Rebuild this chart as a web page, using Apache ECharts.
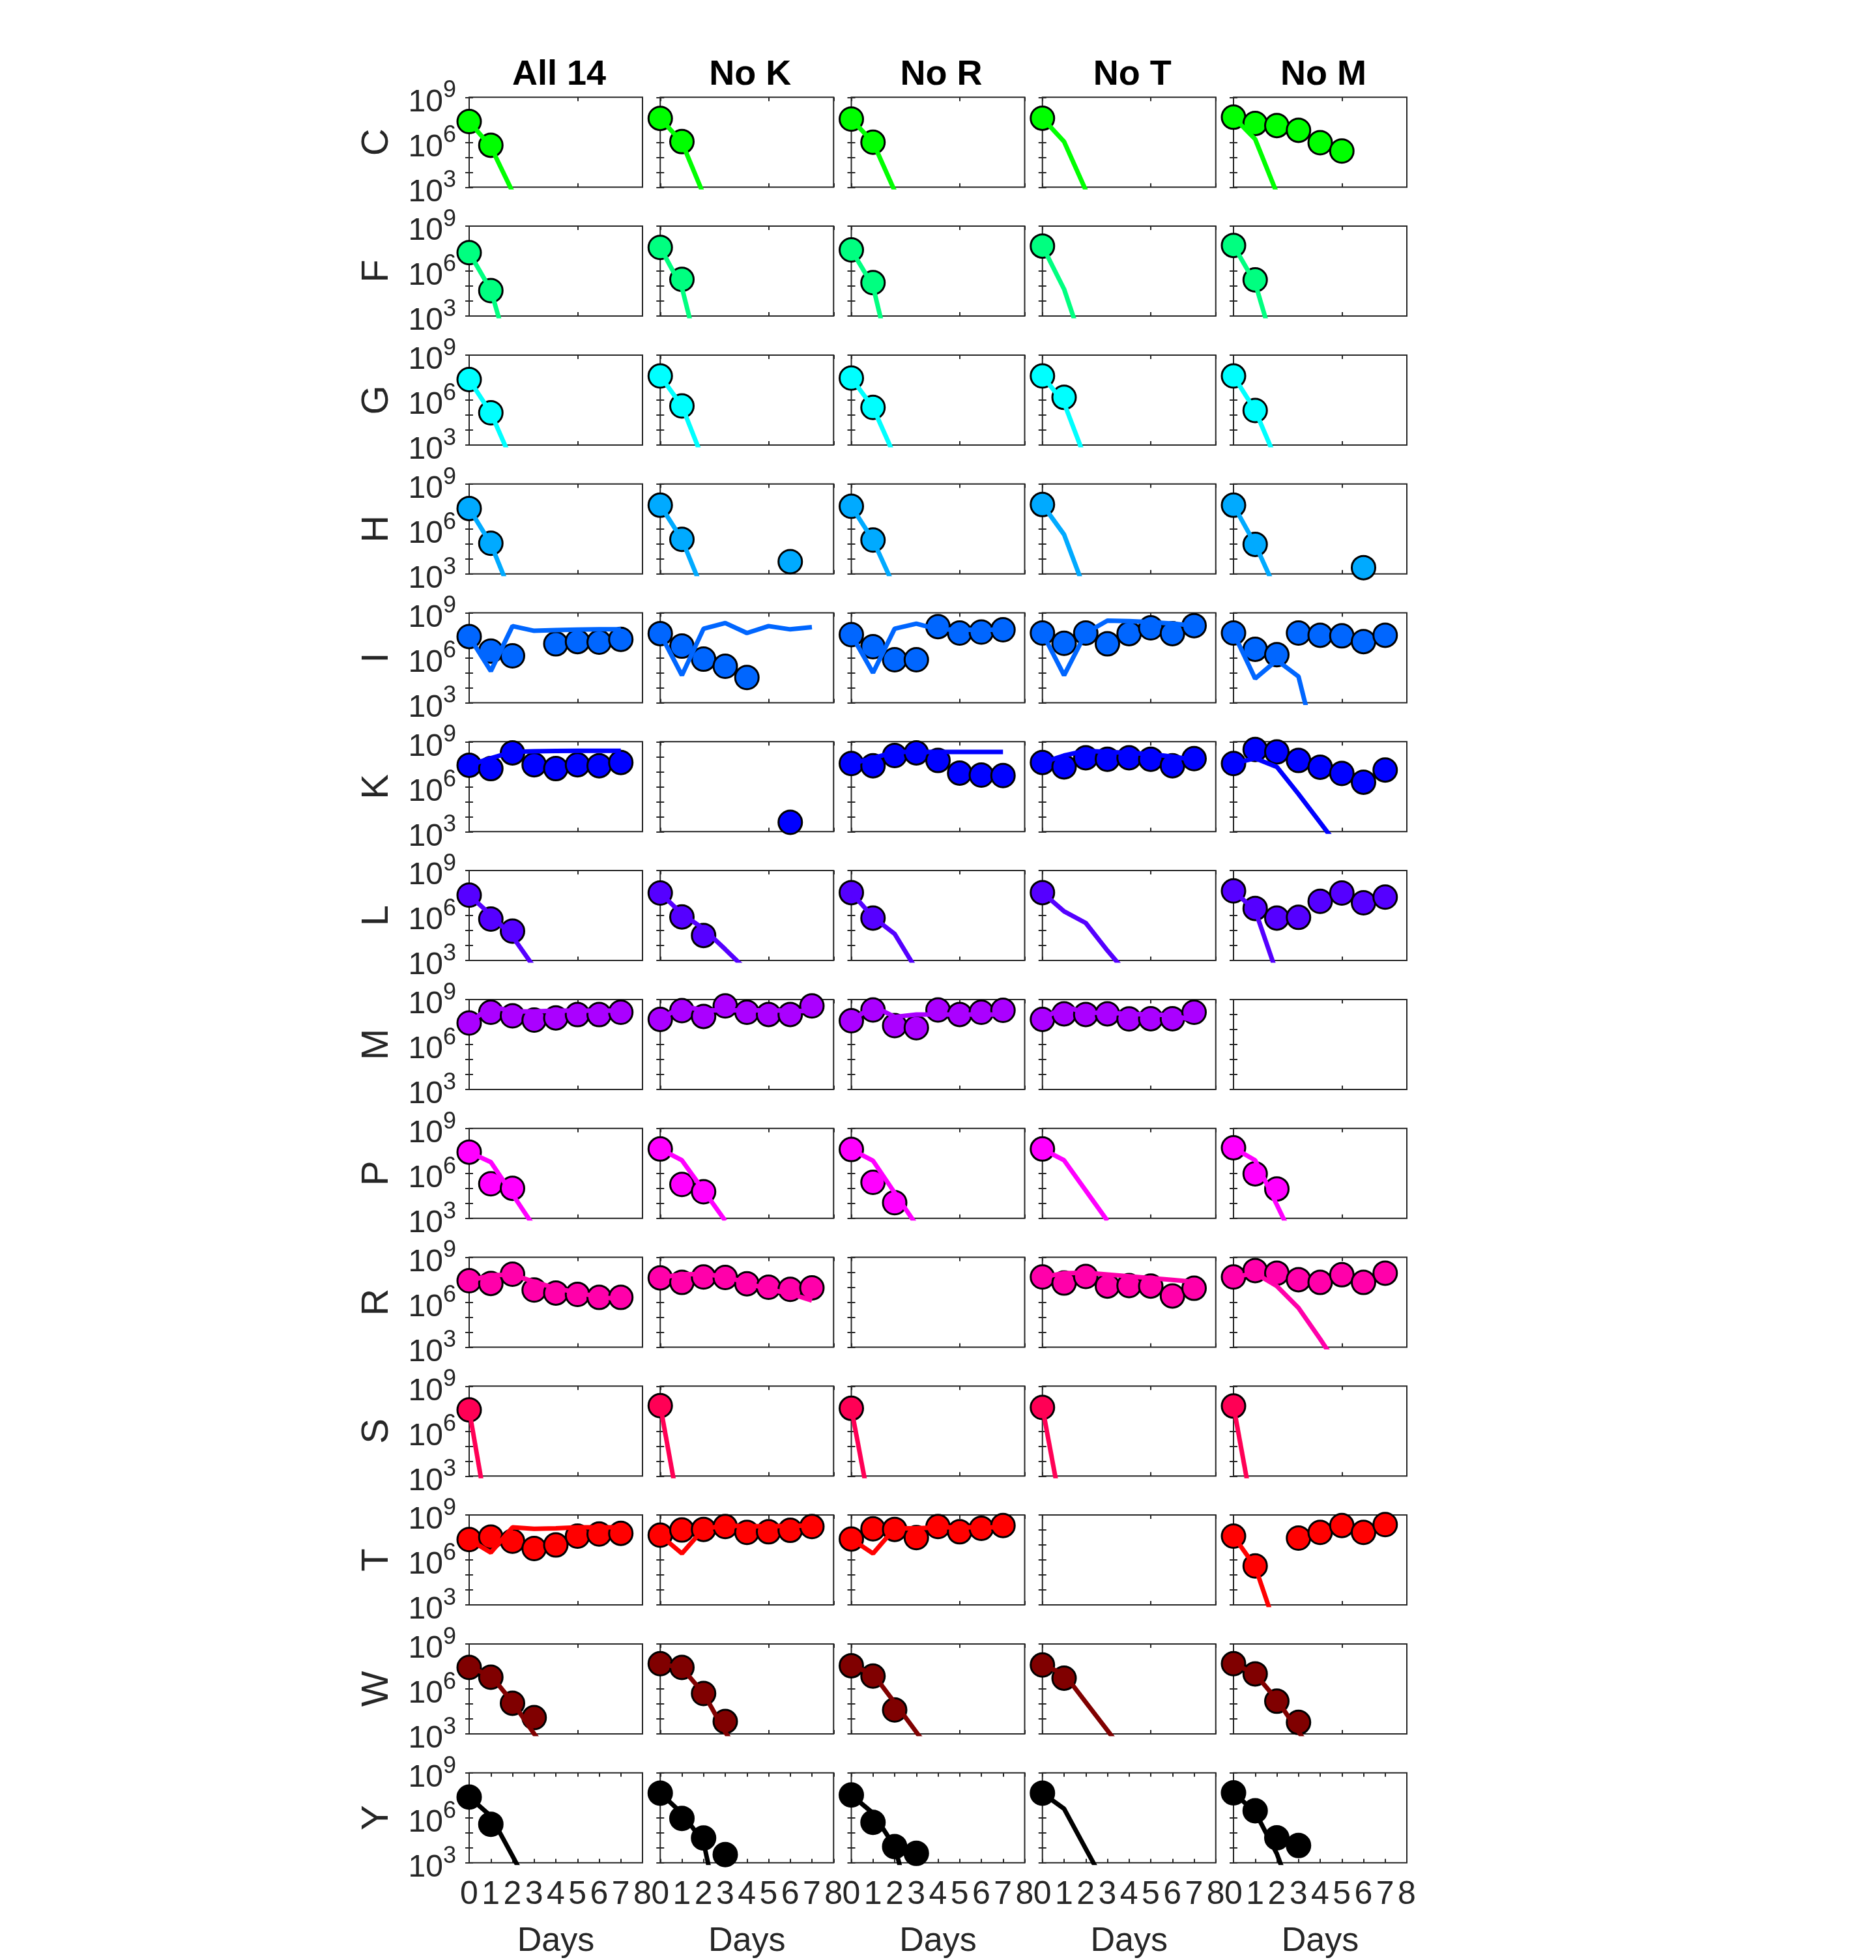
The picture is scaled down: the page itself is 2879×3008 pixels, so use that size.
<!DOCTYPE html>
<html><head><meta charset="utf-8">
<script src="https://cdn.jsdelivr.net/npm/echarts@6/dist/echarts.min.js"></script>
<style>html,body{margin:0;padding:0;background:#fff}#chart{width:2879px;height:3008px}</style>
</head><body><div id="chart"></div>
<script>
const days = [0, 1, 2, 3, 4, 5, 6, 7, 8];
const species = ['C', 'F', 'G', 'H', 'I', 'K', 'L', 'M', 'P', 'R', 'S', 'T', 'W', 'Y'];
const conditions = ['All 14', 'No K', 'No R', 'No T', 'No M'];
const speciesColors = ['#00ff00', '#00ff80', '#00ffff', '#00aaff', '#0066ff', '#0000ff', '#5500ff',
  '#aa00ff', '#ff00ff', '#ff00aa', '#ff0055', '#ff0000', '#800000', '#000000'];
const yLabelExponents = [3, 6, 9];
const xTickLabels = ['0', '1', '2', '3', '4', '5', '6', '7', '8'];

// observed abundances (one array per species, indexed by day; null = not measured)
const obsAll14 = [
  [2.4e7, 6.3e5], [1.7e7, 5.0e4], [2.3e7, 1.4e5], [2.3e7, 1.1e5],
  [2.6e7, 2.8e6, 1.35e6, null, 8.5e6, 1.2e7, 1.1e7, 1.7e7],
  [2.7e7, 1.6e7, 1.8e8, 2.9e7, 1.6e7, 2.9e7, 2.5e7, 4.1e7],
  [2.3e7, 5.8e5, 9.1e4],
  [2.7e7, 1.4e8, 8.1e7, 4.2e7, 5.9e7, 9.8e7, 9.8e7, 1.4e8],
  [2.6e7, 2.0e5, 1.0e5],
  [2.7e7, 1.8e7, 7.4e7, 6.5e6, 4.1e6, 3.3e6, 2.1e6, 2.1e6],
  [2.6e7],
  [2.3e7, 3.4e7, 1.8e7, 5.8e6, 1.0e7, 3.9e7, 5.4e7, 6.0e7],
  [2.7e7, 6.0e6, 1.1e5, 1.2e4],
  [2.4e7, 3.7e5]
];
const modelAll14 = [
  [2.4e7, 5.0e5, 5.0e2], [1.7e7, 5.6e4, 0.5], [2.3e7, 1.4e5, 69], [2.3e7, 1.0e5, 27],
  [2.6e7, 1.3e5, 1.3e8, 6.3e7, 7.1e7, 7.6e7, 7.9e7, 7.9e7],
  [2.7e7, 7.9e7, 2.1e8, 2.3e8, 2.4e8, 2.5e8, 2.5e8, 2.5e8],
  [2.3e7, 1.1e6, 4.0e4, 3.5e2],
  [2.7e7, 3.5e8, 1.6e8, 1.6e8, 1.8e8, 1.8e8, 1.8e8, 1.8e8],
  [2.6e7, 5.6e6, 4.0e4, 2.7e2],
  [2.7e7, 6.3e7, 6.8e7, 2.3e7, 8.5e6, 4.4e6, 2.2e6, 1.6e6],
  [2.6e7, 0.12],
  [2.3e7, 3.1e6, 1.5e8, 1.2e8, 1.3e8, 1.5e8, 1.5e8, 1.5e8],
  [2.7e7, 7.9e6, 1.3e5, 1.0e3, 13],
  [2.4e7, 1.3e6, 2.8e3, 5.4]
];
const obsNoK = [
  [3.9e7, 1.1e6], [3.8e7, 2.8e5], [4.0e7, 4.0e5], [3.8e7, 2.0e5, null, null, null, null, 6.5e3],
  [4.1e7, 6.0e6, 8.1e5, 2.7e5, 4.8e4],
  [null, null, null, null, null, null, 4.2e3],
  [3.2e7, 8.1e5, 4.7e4],
  [4.7e7, 1.8e8, 7.4e7, 3.7e8, 1.4e8, 1.0e8, 1.0e8, 3.7e8],
  [4.2e7, 1.8e5, 5.9e4],
  [4.2e7, 2.1e7, 4.8e7, 4.5e7, 1.7e7, 1.0e7, 7.2e6, 9.1e6],
  [5.0e7],
  [4.5e7, 1.0e8, 1.1e8, 1.7e8, 6.9e7, 7.6e7, 9.5e7, 1.7e8],
  [4.8e7, 2.7e7, 4.9e5, 6.6e3],
  [4.4e7, 9.1e5, 4.5e4, 3.5e3]
];
const modelNoK = [
  [3.9e7, 1.0e6, 3.2e2], [3.8e7, 8.0e4, 0.14], [4.0e7, 4.0e5, 87], [3.8e7, 2.0e5, 58],
  [4.1e7, 6.8e4, 8.7e7, 2.1e8, 4.5e7, 1.3e8, 7.9e7, 1.1e8],
  [],
  [3.2e7, 1.3e6, 1.3e5, 5.6e3, 2.2e2],
  [4.7e7, 3.7e8, 1.9e8, 1.9e8, 1.9e8, 1.9e8, 1.8e8, 1.6e8],
  [4.2e7, 7.4e6, 7.1e4, 6.8e2],
  [4.2e7, 7.4e7, 7.4e7, 5.2e7, 1.9e7, 7.2e6, 3.7e6, 1.3e6],
  [5.0e7, 0.54],
  [4.5e7, 2.7e6, 1.2e8, 2.0e8, 1.8e8, 1.8e8, 1.9e8, 2.0e8],
  [4.8e7, 2.5e7, 5.0e5, 1.3e3, 8],
  [4.4e7, 2.0e6, 2.3e4, 4e-3]
];
const obsNoR = [
  [3.5e7, 1.0e6], [2.6e7, 1.7e5], [2.9e7, 3.2e5], [3.2e7, 1.8e5],
  [3.5e7, 5.5e6, 7.4e5, 7.4e5, 1.2e8, 4.5e7, 5.2e7, 7.4e7],
  [3.5e7, 2.5e7, 1.2e8, 1.8e8, 5.6e7, 8.1e6, 5.9e6, 5.5e6],
  [3.4e7, 6.8e5],
  [3.8e7, 2.0e8, 1.8e7, 1.3e7, 2.0e8, 1.0e8, 1.4e8, 1.9e8],
  [3.9e7, 2.5e5, 1.1e4],
  [],
  [3.3e7],
  [2.5e7, 1.2e8, 1.1e8, 3.1e7, 1.7e8, 7.6e7, 1.3e8, 2.0e8],
  [3.5e7, 7.1e6, 3.9e4],
  [3.3e7, 4.9e5, 1.2e4, 4.2e3]
];
const modelNoR = [
  [3.5e7, 1.0e6, 5.6e2], [2.6e7, 1.0e5, 0.09], [2.9e7, 3.2e5, 178], [3.2e7, 1.8e5, 120],
  [3.5e7, 1.0e5, 8.7e7, 1.9e8, 7.9e7, 7.4e7, 7.4e7, 7.4e7],
  [3.5e7, 7.9e7, 2.1e8, 2.1e8, 2.1e8, 2.1e8, 2.1e8, 2.1e8],
  [3.4e7, 7.9e5, 6.0e4, 2.5e2],
  [3.8e7, 3.7e8, 6.9e7, 9.8e7, 1.0e8, 1.0e8, 1.0e8, 1.0e8],
  [3.9e7, 6.9e6, 5.0e4, 3.6e2],
  [],
  [3.3e7, 0.72],
  [2.5e7, 2.7e6, 1.3e8, 1.3e8, 1.5e8, 1.5e8, 1.5e8, 1.5e8],
  [3.5e7, 1.0e7, 1.2e5, 1.3e3, 16],
  [3.3e7, 2.0e6, 1.2e4, 0.05]
];
const obsNoT = [
  [4.0e7], [4.7e7], [4.0e7, 1.5e6], [4.2e7],
  [4.5e7, 9.3e6, 4.5e7, 8.5e6, 4.1e7, 1.0e8, 4.1e7, 1.4e8],
  [4.1e7, 2.1e7, 8.5e7, 6.8e7, 8.5e7, 6.8e7, 2.5e7, 7.4e7],
  [3.4e7],
  [4.7e7, 1.1e8, 1.0e8, 1.1e8, 5.0e7, 5.2e7, 5.2e7, 1.4e8],
  [4.2e7],
  [4.8e7, 1.9e7, 5.2e7, 1.2e7, 1.3e7, 1.2e7, 2.6e6, 8.5e6],
  [3.8e7],
  [],
  [3.9e7, 5.2e6],
  [4.4e7]
];
const modelNoT = [
  [4.0e7, 1.1e6, 6.3e2], [4.7e7, 6.3e4, 3.2], [4.0e7, 6.3e5, 100], [4.2e7, 4.2e5, 59],
  [4.5e7, 6.8e4, 4.5e7, 3.0e8, 2.8e8, 2.4e8, 1.9e8, 1.4e8],
  [4.1e7, 1.2e8, 2.5e8, 2.1e8, 1.8e8, 1.5e8, 1.0e8, 6.3e7],
  [3.4e7, 1.9e6, 3.2e5, 4.6e3, 91],
  [4.7e7, 3.5e8, 1.3e8, 1.3e8, 1.1e8, 1.0e8, 8.9e7, 4.0e7],
  [4.2e7, 7.4e6, 7.1e4, 6.8e2],
  [4.8e7, 8.7e7, 9.3e7, 7.1e7, 5.4e7, 4.1e7, 3.1e7, 2.3e7],
  [3.8e7, 0.66],
  [],
  [3.9e7, 1.0e7, 1.3e5, 1.7e3, 21],
  [4.4e7, 4.0e6, 8.5e3, 19]
];
const obsNoM = [
  [4.7e7, 1.8e7, 1.3e7, 6.3e6, 9.3e5, 2.6e5], [5.2e7, 2.6e5], [4.0e7, 2.0e5],
  [3.8e7, 9.3e4, null, null, null, null, 2.6e3],
  [4.5e7, 3.7e6, 1.6e6, 4.5e7, 3.2e7, 2.9e7, 1.2e7, 3.2e7],
  [3.5e7, 3.0e8, 2.1e8, 5.6e7, 2.0e7, 7.6e6, 2.0e6, 1.3e7],
  [4.4e7, 3.0e6, 6.8e5, 7.6e5, 8.9e6, 3.2e7, 7.1e6, 1.7e7],
  [],
  [5.1e7, 9.3e5, 9.1e4],
  [4.8e7, 1.3e8, 8.7e7, 3.2e7, 2.1e7, 6.8e7, 2.1e7, 8.7e7],
  [4.7e7],
  [3.9e7, 4.0e5, null, 2.9e7, 6.9e7, 2.0e8, 6.9e7, 2.3e8],
  [4.8e7, 1.0e7, 1.5e5, 5.8e3],
  [4.6e7, 2.9e6, 4.6e4, 1.4e4]
];
const modelNoM = [
  [4.7e7, 1.6e6, 4.0e2], [5.2e7, 1.6e5, 2.0], [4.0e7, 2.0e5, 83], [3.8e7, 9.3e4, 62],
  [4.5e7, 4.1e4, 6.9e5, 5.6e4, 0.09],
  [3.5e7, 7.9e7, 2.1e7, 3.2e5, 4.0e3, 50],
  [4.4e7, 2.2e6, 1.4e2],
  [],
  [5.1e7, 7.4e6, 7.9e3, 7.9],
  [4.8e7, 8.7e7, 1.2e7, 4.2e5, 3.5e3, 22],
  [4.7e7, 0.56],
  [3.9e7, 3.6e5, 20],
  [4.8e7, 1.0e7, 1.9e5, 1.4e3, 10],
  [4.6e7, 2.4e6, 4.0e3, 0.5]
];

const obsByCondition = [obsAll14, obsNoK, obsNoR, obsNoT, obsNoM];
const modelByCondition = [modelAll14, modelNoK, modelNoR, modelNoT, modelNoM];

// layout
const FONT = '"Liberation Sans", Arial, Helvetica, sans-serif';
const TXT = '#262626';
const LEFT0 = 720, COL_PITCH = 293.25, GW = 266;
const TOP0 = 149.3, ROW_PITCH = 197.8, GH = 138;

const grids = [], xAxes = [], yAxes = [], series = [], titles = [];
const tickStyle = { show: true, inside: true, length: 6, lineStyle: { color: TXT, width: 2 } };

conditions.forEach((name, c) => {
  titles.push({
    text: name, left: LEFT0 + c * COL_PITCH + GW / 2, top: 83, textAlign: 'center',
    textStyle: { fontSize: 54, fontWeight: 'bold', color: '#000', fontFamily: FONT }
  });
});

let gi = 0;
for (let r = 0; r < species.length; r++) {
  for (let c = 0; c < conditions.length; c++) {
    const left = LEFT0 + c * COL_PITCH, top = TOP0 + r * ROW_PITCH;
    const bottomRow = r === species.length - 1;
    grids.push({ left: left, top: top, width: GW, height: GH, show: true,
      borderColor: TXT, borderWidth: 2, backgroundColor: 'rgba(0,0,0,0)' });
    const xBase = { gridIndex: gi, type: 'value', min: 0, max: 8, interval: bottomRow ? 1 : 5,
      axisLine: { show: false }, axisTick: tickStyle, splitLine: { show: false } };
    xAxes.push(Object.assign({}, xBase, {
      position: 'bottom',
      axisLabel: { show: bottomRow, margin: 25, fontSize: 50, color: TXT, fontFamily: FONT,
        showMinLabel: true, showMaxLabel: true,
        formatter: (v) => xTickLabels[Math.round(v)] },
      name: bottomRow ? 'Days' : '', nameLocation: 'middle', nameGap: 95,
      nameTextStyle: { fontSize: 52, color: TXT, fontFamily: FONT }
    }));
    xAxes.push(Object.assign({}, xBase, { position: 'top', axisLabel: { show: false } }));
    const yBase = { gridIndex: gi, type: 'log', logBase: 10, min: 1e3, max: 1e9, splitNumber: 6,
      axisLine: { show: false }, axisTick: tickStyle, splitLine: { show: false } };
    yAxes.push(Object.assign({}, yBase, {
      position: 'left',
      axisLabel: { show: c === 0, margin: 20, padding: [16, 0, 0, 0],
        formatter: (v) => {
          const e = Math.round(Math.log10(v));
          return yLabelExponents.indexOf(e) >= 0 ? '{b|10}{s|' + e + '}' : '';
        },
        rich: {
          b: { fontSize: 48, lineHeight: 48, color: TXT, fontFamily: FONT, verticalAlign: 'bottom' },
          s: { fontSize: 36, lineHeight: 36, color: TXT, fontFamily: FONT, verticalAlign: 'bottom', padding: [0, 0, 24, 0] }
        } },
      name: c === 0 ? species[r] : '', nameLocation: 'middle', nameRotate: 90, nameGap: 112,
      nameTextStyle: { fontSize: 58, color: TXT, fontFamily: FONT }
    }));
    yAxes.push(Object.assign({}, yBase, { position: 'right', axisLabel: { show: false } }));

    const color = speciesColors[r];
    const obs = obsByCondition[c][r];
    const obsPts = [];
    obs.forEach((v, i) => { if (v !== null && v !== undefined) obsPts.push([days[i], v]); });
    if (obsPts.length) {
      series.push({ type: 'scatter', xAxisIndex: gi * 2, yAxisIndex: gi * 2, data: obsPts,
        symbol: 'circle', symbolSize: 36, clip: false, z: 2,
        itemStyle: { color: color, borderColor: '#000', borderWidth: 3, opacity: 1 } });
    }
    const model = modelByCondition[c][r];
    if (model.length) {
      series.push({ type: 'line', xAxisIndex: gi * 2, yAxisIndex: gi * 2,
        data: model.map((v, i) => [days[i], v]), showSymbol: false, symbol: 'none',
        clip: true, z: 3, lineStyle: { color: color, width: 7 } });
    }
    gi++;
  }
}

const chart = echarts.init(document.getElementById('chart'), null, { renderer: 'canvas' });
chart.setOption({
  animation: false, backgroundColor: '#fff',
  title: titles, grid: grids, xAxis: xAxes, yAxis: yAxes, series: series
});
</script></body></html>
